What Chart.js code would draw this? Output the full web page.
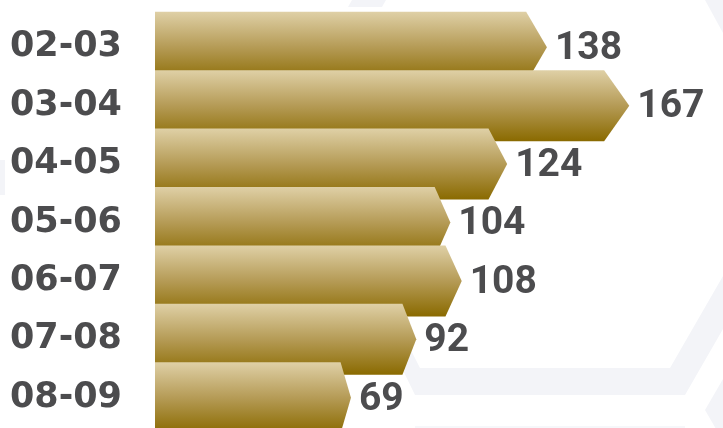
<!DOCTYPE html>
<html>
<head>
<meta charset="utf-8">
<script src="https://cdn.jsdelivr.net/npm/chart.js@4"></script>
<style>
  html, body { margin: 0; padding: 0; background: #ffffff; overflow: hidden; }
  #wrap { width: 723px; height: 428px; position: relative; }
</style>
</head>
<body>
<div id="wrap"><canvas id="c" width="723" height="428"></canvas></div>
<script>
// ---- data ----
const categories = ['02-03', '03-04', '04-05', '05-06', '06-07', '07-08', '08-09'];
const values = [138, 167, 124, 104, 108, 92, 69];
const valueLabels = ['138', '167', '124', '104', '108', '92', '69'];

// decorative faint hexagon bands in the background
const bgPlugin = {
  id: 'bgDeco',
  beforeDatasetsDraw(chart) {
    const ctx = chart.ctx;
    ctx.save();
    ctx.fillStyle = '#f3f4f8';
    const polys = [
      [[705, 0], [723, 0], [723, 33]],
      [[352, 0], [386, 0], [382, 7], [348, 7]],
      [[330, 220], [345, 220], [420, 368], [670, 368], [723, 276], [723, 329], [685, 395], [415, 395]],
      [[723, 379], [705, 410], [723, 441]],
      [[0, 160], [5, 160], [5, 195], [0, 195]]
    ];
    for (const p of polys) {
      ctx.beginPath();
      ctx.moveTo(p[0][0], p[0][1]);
      for (let i = 1; i < p.length; i++) ctx.lineTo(p[i][0], p[i][1]);
      ctx.closePath();
      ctx.fill();
    }
    ctx.fillStyle = '#f6f7fa';
    ctx.fillRect(415, 426, 270, 2);
    ctx.restore();
  }
};

// arrow-shaped bars drawn from the bar elements' scale positions
const arrowPlugin = {
  id: 'arrowBars',
  afterDatasetsDraw(chart) {
    const ctx = chart.ctx;
    const meta = chart.getDatasetMeta(0);
    ctx.save();
    meta.data.forEach((el, i) => {
      const base = el.base, tip = el.x, cy = el.y, h = el.height;
      const top = cy - h / 2, bot = cy + h / 2;
      const depth = 0.053 * (tip - base);
      const g = ctx.createLinearGradient(0, top, 0, bot);
      g.addColorStop(0, '#dfd0a6');
      g.addColorStop(0.5, '#b59b56');
      g.addColorStop(1, '#8a6a00');
      ctx.fillStyle = g;
      ctx.beginPath();
      ctx.moveTo(base, top);
      ctx.lineTo(tip - depth, top);
      ctx.lineTo(tip, cy);
      ctx.lineTo(tip - depth, bot);
      ctx.lineTo(base, bot);
      ctx.closePath();
      ctx.fill();
    });
    // value labels
    ctx.fillStyle = '#4c4c4e';
    ctx.font = 'bold 39px Roboto';
    ctx.textAlign = 'left';
    ctx.textBaseline = 'middle';
    meta.data.forEach((el, i) => {
      ctx.fillText(valueLabels[i], el.x + 8, el.y + 2);
    });
    ctx.restore();
  }
};

new Chart(document.getElementById('c'), {
  type: 'bar',
  data: {
    labels: categories,
    datasets: [{
      data: values,
      backgroundColor: 'rgba(0,0,0,0)',
      borderWidth: 0,
      barThickness: 71,
      categoryPercentage: 1,
      barPercentage: 1
    }]
  },
  options: {
    indexAxis: 'y',
    responsive: false,
    animation: false,
    events: [],
    layout: { padding: { top: 18, bottom: 1, left: 10, right: 0 } },
    plugins: { legend: { display: false }, tooltip: { enabled: false } },
    scales: {
      x: { display: false, min: 0, max: 200, grid: { display: false } },
      y: {
        grid: { display: false, drawTicks: false },
        border: { display: false },
        afterFit(scale) { scale.width = 145; scale.paddingTop = 0; scale.paddingBottom = 0; },
        ticks: {
          color: '#4c4c4e',
          padding: 0,
          crossAlign: 'far',
          font: { family: 'DejaVu Sans', weight: 'bold', size: 35 }
        }
      }
    }
  },
  plugins: [bgPlugin, arrowPlugin]
});
</script>
</body>
</html>
